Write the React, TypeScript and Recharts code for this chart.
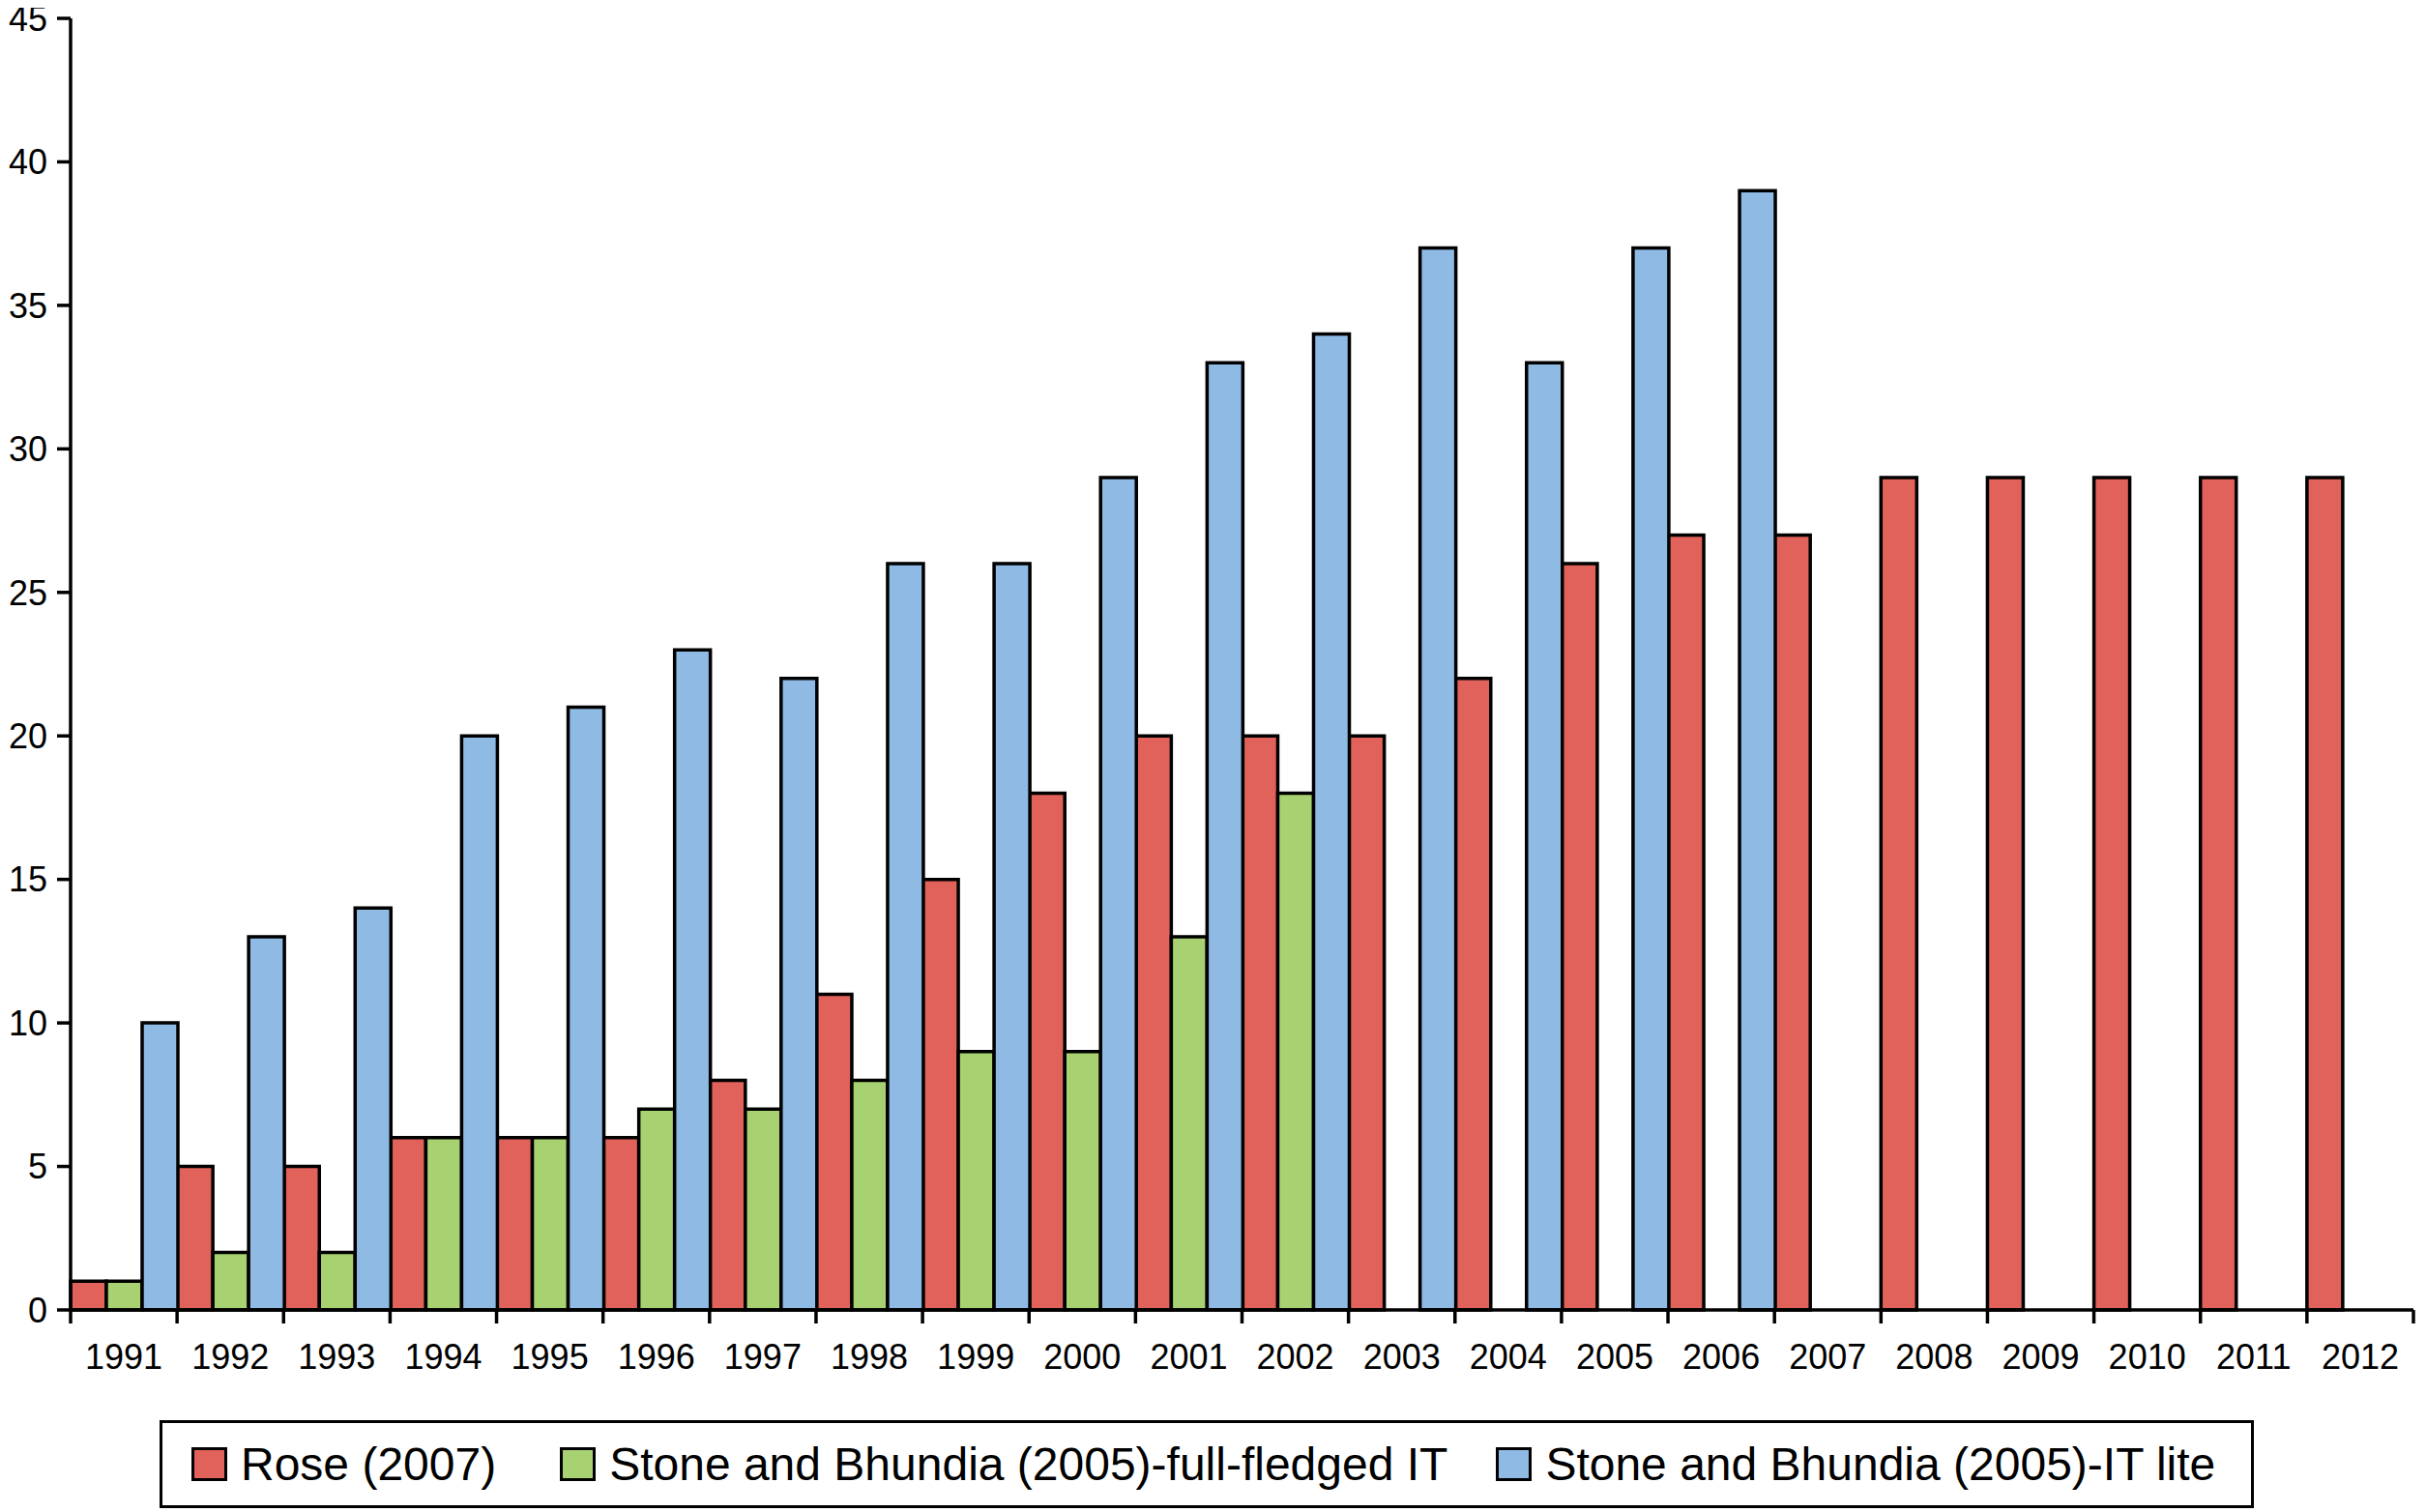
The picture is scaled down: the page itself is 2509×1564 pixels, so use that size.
import { BarChart, Bar, XAxis, YAxis } from 'recharts';

const years = [
  '1991', '1992', '1993', '1994', '1995', '1996', '1997', '1998', '1999', '2000', '2001',
  '2002', '2003', '2004', '2005', '2006', '2007', '2008', '2009', '2010', '2011', '2012',
];
const rose = [1, 5, 5, 6, 6, 6, 8, 11, 15, 18, 20, 20, 20, 22, 26, 27, 27, 29, 29, 29, 29, 29];
const fullFledged = [
  1, 2, 2, 6, 6, 7, 7, 8, 9, 9, 13, 18,
  null, null, null, null, null, null, null, null, null, null,
];
const itLite = [
  10, 13, 14, 20, 21, 23, 22, 26, 26, 29, 33, 34, 37, 33, 37, 39,
  null, null, null, null, null, null,
];
const yTicks = [0, 5, 10, 15, 20, 25, 30, 35, 40, 45];

const series = [
  { key: 'rose', name: 'Rose (2007)', color: '#E0625A' },
  { key: 'full', name: 'Stone and Bhundia (2005)-full-fledged IT', color: '#A8D271' },
  { key: 'lite', name: 'Stone and Bhundia (2005)-IT lite', color: '#8EBAE4' },
];

const data = years.map((year, i) => ({
  year,
  rose: rose[i],
  full: fullFledged[i],
  lite: itLite[i],
}));

const FONT = '"Liberation Sans", Arial, Helvetica, sans-serif';
const PLOT_W = 2496 - 73;
const LINE = 3.5;

// labels sit mid-band, tick marks go on the band edges
function YearTick(props: any) {
  const { x, y, payload, index, visibleTicksCount } = props;
  const w = typeof props.width === 'number' && props.width > 0 ? props.width : PLOT_W;
  const bw = w / (visibleTicksCount || years.length);
  const left = x - bw / 2;
  return (
    <g>
      <line x1={left} x2={left} y1={y - 14} y2={y} stroke="#000" strokeWidth={LINE} />
      {index === visibleTicksCount - 1 && (
        <line x1={x + bw / 2} x2={x + bw / 2} y1={y - 14} y2={y} stroke="#000" strokeWidth={LINE} />
      )}
      <text x={x} y={y + 47} textAnchor="middle" fontSize={36} fill="#000" fontFamily={FONT}>
        {payload.value}
      </text>
    </g>
  );
}

export default function App() {
  return (
    <div
      style={{
        position: 'relative',
        width: 2509,
        height: 1564,
        margin: '-8px 0 0 -8px',
        fontFamily: FONT,
        background: '#fff',
      }}
    >
      <BarChart
        width={2509}
        height={1428}
        data={data}
        margin={{ top: 19, right: 13, bottom: 0, left: 0 }}
        barCategoryGap={0}
        barGap={0}
      >
        <XAxis
          dataKey="year"
          height={73}
          interval={0}
          tickLine={false}
          tickSize={14}
          tickMargin={0}
          axisLine={{ stroke: '#000', strokeWidth: LINE }}
          tick={<YearTick />}
        />
        <YAxis
          domain={[0, 45]}
          ticks={yTicks}
          interval={0}
          width={73}
          tickSize={14}
          tickMargin={10}
          axisLine={{ stroke: '#000', strokeWidth: LINE }}
          tickLine={{ stroke: '#000', strokeWidth: LINE }}
          tick={{ fill: '#000', fontSize: 36, fontFamily: FONT }}
        />
        {series.map((s) => (
          <Bar
            key={s.key}
            dataKey={s.key}
            name={s.name}
            fill={s.color}
            stroke="#000"
            strokeWidth={LINE}
            isAnimationActive={false}
          />
        ))}
      </BarChart>
      <div
        style={{
          position: 'absolute',
          left: 165,
          top: 1469,
          width: 2166,
          height: 91,
          boxSizing: 'border-box',
          border: '3px solid #000',
          display: 'flex',
          alignItems: 'center',
          paddingLeft: 30,
          fontSize: 48,
          color: '#000',
        }}
      >
        {series.map((s, i) => (
          <div key={s.key} style={{ display: 'flex', alignItems: 'center', marginRight: i === 0 ? 66 : 50 }}>
            <span
              style={{
                display: 'inline-block',
                width: 37,
                height: 35,
                boxSizing: 'border-box',
                border: '3px solid #000',
                background: s.color,
                marginRight: 14,
              }}
            />
            <span style={{ whiteSpace: 'nowrap' }}>{s.name}</span>
          </div>
        ))}
      </div>
    </div>
  );
}
